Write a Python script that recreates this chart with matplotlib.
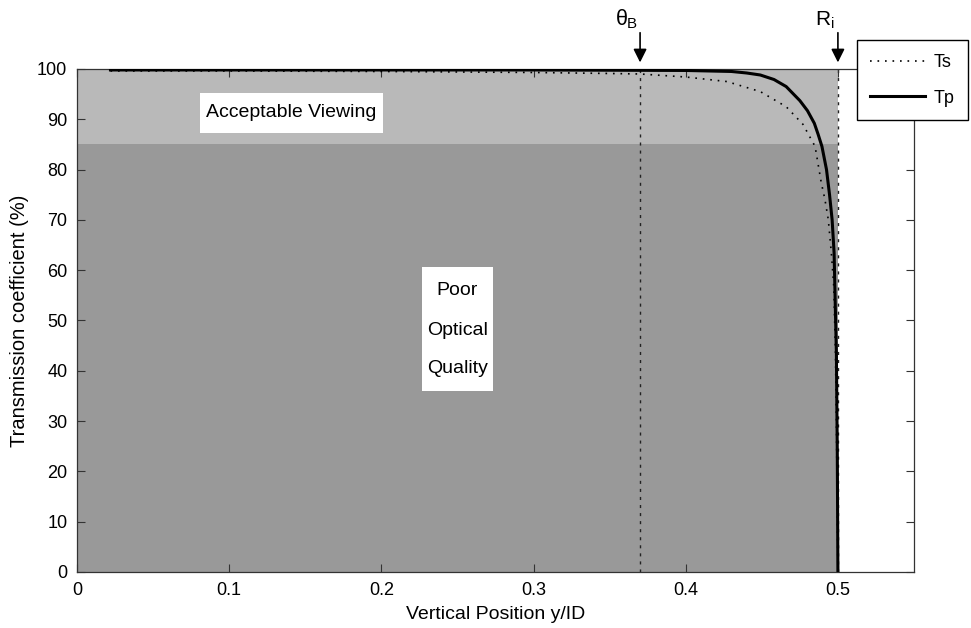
import matplotlib
matplotlib.use("Agg")
import matplotlib.pyplot as plt
from matplotlib.patches import Rectangle

plt.rcParams['font.family'] = ['Liberation Sans', 'DejaVu Sans']
plt.rcParams['mathtext.fontset'] = 'custom'
plt.rcParams['mathtext.rm'] = 'Liberation Sans'
plt.rcParams['mathtext.it'] = 'Liberation Sans'

# Transmission curves (percent) against vertical position y/ID
ts_x = [0.022, 0.10, 0.20, 0.30, 0.35, 0.37, 0.40, 0.427, 0.449, 0.466, 0.477,
        0.485, 0.489, 0.4915, 0.4937, 0.4957, 0.4973, 0.4984, 0.4990, 0.4995, 0.5]
ts_y = [99.6, 99.6, 99.5, 99.3, 99.1, 99.0, 98.4, 97.5, 95.5, 92.5, 89.0,
        84.6, 77.5, 74.0, 70.0, 63.4, 56.7, 43.5, 30.0, 15.0, 0.0]

tp_x = [0.022, 0.10, 0.20, 0.30, 0.40, 0.43, 0.44, 0.449, 0.458, 0.466, 0.475,
        0.480, 0.4845, 0.487, 0.4895, 0.4925, 0.4945, 0.4962, 0.4975, 0.4985,
        0.4990, 0.4996, 0.5]
tp_y = [99.8, 99.8, 99.8, 99.8, 99.7, 99.5, 99.2, 98.8, 97.9, 96.5, 93.7,
        91.7, 89.2, 87.0, 84.6, 80.0, 75.0, 70.0, 63.4, 50.0,
        43.5, 23.6, 0.0]

acceptable_level = 85       # % transmission, lower bound of acceptable viewing
region_extent = 0.5         # y/ID where the regions end
brewster_pos = 0.37         # theta_B
inner_radius_pos = 0.5      # R_i

x_ticks = [0, 0.1, 0.2, 0.3, 0.4, 0.5]
x_tick_labels = ['0', '0.1', '0.2', '0.3', '0.4', '0.5']
y_ticks = list(range(0, 101, 10))

fig = plt.figure(figsize=(9.71, 6.28), dpi=100)
ax = fig.add_axes([0.0793, 0.0892, 0.862, 0.801])

ax.fill_between([0, region_extent], 0, acceptable_level, color='#999999', lw=0, zorder=0)
ax.fill_between([0, region_extent], acceptable_level, 100, color='#b9b9b9', lw=0, zorder=0)

marker_style = dict(color='#222222', ls=(0, (2.2, 3.6)), lw=1.0, zorder=1)
ax.plot([brewster_pos, brewster_pos], [0, 100], **marker_style)
ax.plot([inner_radius_pos, inner_radius_pos], [0, 100], **marker_style)

ax.plot(ts_x, ts_y, color='black', ls=(0, (1, 3.5)), lw=1.2, label='Ts', zorder=3)
ax.plot(tp_x, tp_y, color='black', ls='-', lw=2.2, label='Tp', zorder=4)

ax.set_xlim(0, 0.55)
ax.set_ylim(0, 100)
ax.set_xticks(x_ticks)
ax.set_xticklabels(x_tick_labels)
ax.set_yticks(y_ticks)
ax.tick_params(direction='in', top=True, right=True, length=6, width=0.8,
               color='#333333', labelsize=13, pad=7)
for s in ax.spines.values():
    s.set_color('#333333')
    s.set_linewidth(0.9)

ax.set_xlabel('Vertical Position y/ID', fontsize=14, labelpad=5)
ax.set_ylabel('Transmission coefficient (%)', fontsize=14.5, labelpad=6)

# Region captions on white panels
ax.add_patch(Rectangle((0.0808, 87.3), 0.1203, 7.9, fc='white', ec='none', zorder=5))
ax.text(0.141, 91.25, 'Acceptable Viewing', fontsize=14, ha='center', va='center', zorder=6)
ax.add_patch(Rectangle((0.2267, 36.0), 0.0466, 24.6, fc='white', ec='none', zorder=5))
for yy, word in [(55.9, 'Poor'), (48.1, 'Optical'), (40.5, 'Quality')]:
    ax.text(0.25, yy, word, fontsize=14, ha='center', va='center', zorder=6)

# Arrows marking theta_B and R_i above the frame
for xpos, lab, fs, dx in [(brewster_pos, r'$\theta_\mathrm{B}$', 15.5, -0.001),
                          (inner_radius_pos, r'$\mathrm{R_i}$', 15, -0.002)]:
    ax.annotate('', xy=(xpos, 101.3), xytext=(xpos, 107.2), xycoords='data',
                annotation_clip=False,
                arrowprops=dict(arrowstyle='-|>', color='black', lw=1.2,
                                mutation_scale=20, shrinkA=0, shrinkB=0))
    ax.text(xpos + dx, 107.6, lab, fontsize=fs, ha='right', va='bottom', clip_on=False)

leg = ax.legend(loc='upper right', bbox_to_anchor=(1.0645, 1.057), fontsize=13,
                handlelength=3.0, labelspacing=1.05, borderpad=0.75,
                fancybox=False, framealpha=1, edgecolor='black', handletextpad=0.5,
                borderaxespad=0)
leg.get_frame().set_linewidth(1.0)
leg.set_zorder(10)

fig.savefig('out.png', dpi=100)
